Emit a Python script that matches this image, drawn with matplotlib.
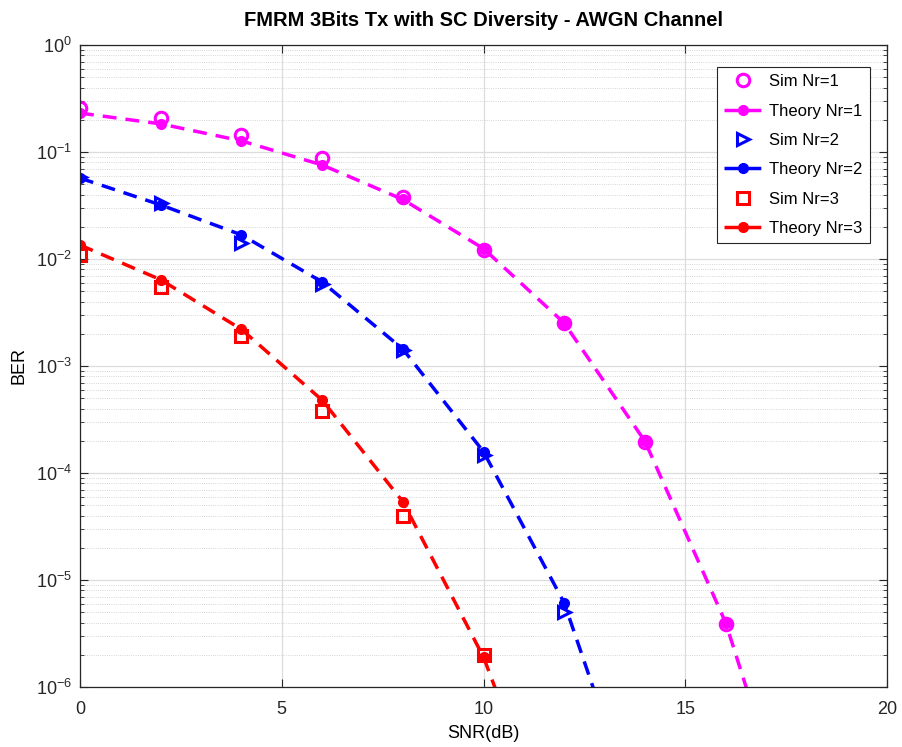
import numpy as np
import matplotlib.pyplot as plt
from matplotlib.ticker import LogLocator, NullFormatter, MultipleLocator

plt.rcParams['font.family'] = ['Liberation Sans', 'DejaVu Sans']
plt.rcParams['mathtext.fontset'] = 'custom'
plt.rcParams['mathtext.rm'] = 'Liberation Sans'
plt.rcParams['mathtext.it'] = 'Liberation Sans:italic'
plt.rcParams['mathtext.bf'] = 'Liberation Sans:bold'

# SNR points (dB)
snr = [0, 2, 4, 6, 8, 10, 12, 14, 16, 18]

# Simulated BER (points with zero errors are left out)
sim_nr1 = [0.258, 0.208, 0.144, 0.088, 0.038, 0.0121, 0.00252, 1.95e-4, 3.9e-6]
sim_nr2 = [0.058, 0.033, 0.0141, 0.0058, 0.00142, 1.47e-4, 5.0e-6]
sim_nr3 = [0.0109, 0.0055, 0.0019, 3.8e-4, 4.0e-5, 2.0e-6]

# Theoretical BER
th_nr1 = [0.231, 0.183, 0.127, 0.0756, 0.036, 0.0125, 0.00252, 1.98e-4, 4.0e-6, 1.7e-8]
th_nr2 = [0.057, 0.032, 0.0168, 0.0061, 0.00144, 1.58e-4, 6.1e-6, 3.8e-8]
th_nr3 = [0.0135, 0.0064, 0.0022, 4.8e-4, 5.4e-5, 1.9e-6, 1.9e-8]

fig = plt.figure(figsize=(9.02, 7.47), dpi=100)
ax = fig.add_axes([0.0887, 0.0803, 0.8947, 0.8595])

dash = (4, 2.6)
ax.semilogy(snr[:len(sim_nr1)], sim_nr1, 'o', color='magenta', mfc='none', ms=9, mew=2.2, label='Sim Nr=1')
ax.semilogy(snr[:len(th_nr1)], th_nr1, '--o', color='magenta', lw=2.5, ms=7, dashes=dash, label='Theory Nr=1')
ax.semilogy(snr[:len(sim_nr2)], sim_nr2, '>', color='blue', mfc='none', ms=9, mew=2.2, label='Sim Nr=2')
ax.semilogy(snr[:len(th_nr2)], th_nr2, '--o', color='blue', lw=2.5, ms=7, dashes=dash, label='Theory Nr=2')
ax.semilogy(snr[:len(sim_nr3)], sim_nr3, 's', color='red', mfc='none', ms=9, mew=2.2, label='Sim Nr=3')
ax.semilogy(snr[:len(th_nr3)], th_nr3, '--o', color='red', lw=2.5, ms=7, dashes=dash, label='Theory Nr=3')

ax.set_xlim(0, 20)
ax.set_ylim(1e-6, 1)
ax.xaxis.set_major_locator(MultipleLocator(5))
ax.yaxis.set_major_locator(LogLocator(base=10, numticks=10))
ax.yaxis.set_minor_locator(LogLocator(base=10, subs=np.arange(2, 10), numticks=100))
ax.yaxis.set_minor_formatter(NullFormatter())

ax.grid(True, which='major', color='#dcdcdc', lw=0.9, ls='-')
ax.grid(True, which='minor', axis='y', color='#c8c8c8', lw=0.6, ls=':')
ax.set_axisbelow(True)
ax.tick_params(which='both', direction='in', top=True, right=True, colors='#262626', labelsize=13)
ax.tick_params(axis='x', which='major', pad=10)
ax.tick_params(axis='y', which='major', pad=6)
ax.tick_params(which='major', length=6)
ax.tick_params(which='minor', length=3)
for s in ax.spines.values():
    s.set_color('#262626')
    s.set_linewidth(0.9)

ax.set_xlabel('SNR(dB)', fontsize=13, labelpad=5)
ax.set_ylabel('BER', fontsize=13, labelpad=6)
ax.set_title('FMRM 3Bits Tx with SC Diversity - AWGN Channel', fontsize=14.5, fontweight='bold', pad=14)

leg = ax.legend(loc='upper right', bbox_to_anchor=(0.979, 0.966), fontsize=12, fancybox=False,
                edgecolor='#262626', framealpha=1, handlelength=2.2, handletextpad=0.5,
                labelspacing=0.86, borderpad=0.45, borderaxespad=0)
leg.get_frame().set_linewidth(0.8)

fig.savefig('out.png', dpi=100)
